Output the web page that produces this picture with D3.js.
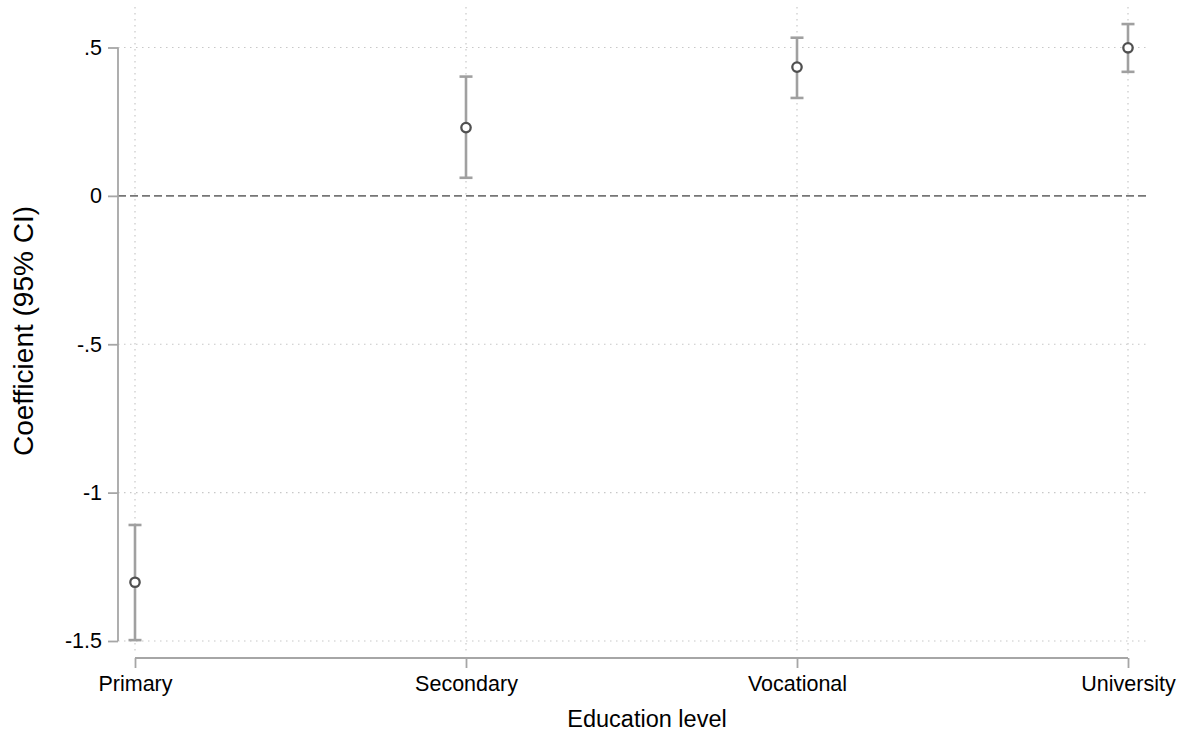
<!DOCTYPE html>
<html><head><meta charset="utf-8">
<script src="https://cdn.jsdelivr.net/npm/d3@7"></script>
<style>body{margin:0;background:#fff;} text{font-family:"Liberation Sans",Arial,sans-serif;}</style>
</head><body>
<svg id="chart" width="1187" height="735"></svg>
<script>
const categories = ["Primary","Secondary","Vocational","University"];
const coef = [-1.302, 0.230, 0.434, 0.499];
const ciLow = [-1.497, 0.061, 0.330, 0.418];
const ciHigh = [-1.109, 0.402, 0.533, 0.579];
const yTicks = [-1.5, -1, -0.5, 0, 0.5];
const yTickLabels = ["-1.5","-1","-.5","0",".5"];

const svg = d3.select("#chart");
const plotLeft = 118, plotRight = 1148, plotTop = 7, plotBottom = 652;
const x = d3.scalePoint().domain(categories).range([135, 1128]);
const y = d3.scaleLinear().domain([-1.5, 0.5]).range([641, 47.5]);

const grid = svg.append("g");
grid.selectAll("line.h").data(yTicks.filter(d => d !== 0)).enter().append("line")
  .attr("x1", plotLeft).attr("x2", plotRight)
  .attr("y1", d => y(d)).attr("y2", d => y(d))
  .attr("stroke", "#c8c8c8").attr("stroke-width", 1.2).attr("stroke-dasharray", "1.5,4.5");
grid.selectAll("line.v").data(categories).enter().append("line")
  .attr("x1", d => x(d)).attr("x2", d => x(d))
  .attr("y1", plotTop).attr("y2", plotBottom)
  .attr("stroke", "#c8c8c8").attr("stroke-width", 1.2).attr("stroke-dasharray", "1.5,4.5");
svg.append("line").attr("x1", plotLeft).attr("x2", plotRight)
  .attr("y1", y(0)).attr("y2", y(0))
  .attr("stroke", "#767676").attr("stroke-width", 1.6).attr("stroke-dasharray", "8,4");

const yAxis = d3.axisLeft(y).tickValues(yTicks).tickFormat((d,i) => yTickLabels[i]).tickSize(10).tickPadding(6);
const ya = svg.append("g").attr("transform", `translate(${plotLeft},0)`).call(yAxis);
ya.select(".domain").attr("stroke", "#a6a6a6").attr("stroke-width", 1.8).attr("d", `M0,${y(0.5)}V${y(-1.5)}`);
ya.selectAll(".tick line").attr("stroke", "#a6a6a6").attr("stroke-width", 1.8);
ya.selectAll(".tick text").attr("font-size", 21.5).attr("fill", "#000").attr("font-family", "Liberation Sans, Arial, sans-serif");

const xAxis = d3.axisBottom(x).tickSize(10).tickPadding(8);
const xa = svg.append("g").attr("transform", "translate(0,658)").call(xAxis);
xa.select(".domain").attr("stroke", "#a6a6a6").attr("stroke-width", 1.8).attr("d", `M${x(categories[0])},0H${x(categories[3])}`);
xa.selectAll(".tick line").attr("stroke", "#a6a6a6").attr("stroke-width", 1.8);
xa.selectAll(".tick text").attr("font-size", 21.5).attr("fill", "#000").attr("font-family", "Liberation Sans, Arial, sans-serif");

const eb = svg.append("g");
const idx = d3.range(categories.length);
eb.selectAll("line.bar").data(idx).enter().append("line")
  .attr("x1", i => x(categories[i])).attr("x2", i => x(categories[i]))
  .attr("y1", i => y(ciLow[i])).attr("y2", i => y(ciHigh[i]))
  .attr("stroke", "#a0a0a0").attr("stroke-width", 2.6);
["low","high"].forEach(k => {
  const arr = k === "low" ? ciLow : ciHigh;
  eb.selectAll("line.cap" + k).data(idx).enter().append("line")
    .attr("x1", i => x(categories[i]) - 6.5).attr("x2", i => x(categories[i]) + 6.5)
    .attr("y1", i => y(arr[i])).attr("y2", i => y(arr[i]))
    .attr("stroke", "#a0a0a0").attr("stroke-width", 2.6);
});
svg.append("g").selectAll("circle").data(idx).enter().append("circle")
  .attr("cx", i => x(categories[i])).attr("cy", i => y(coef[i])).attr("r", 4.7)
  .attr("fill", "#fff").attr("stroke", "#505050").attr("stroke-width", 2.3);

svg.append("text").attr("x", 647).attr("y", 727).attr("text-anchor", "middle")
  .attr("font-size", 23.5).attr("fill", "#000").text("Education level");
svg.append("text").attr("transform", "translate(33,331) rotate(-90)").attr("text-anchor", "middle")
  .attr("font-size", 28).attr("fill", "#000").text("Coefficient (95% CI)");
</script>
</body></html>
